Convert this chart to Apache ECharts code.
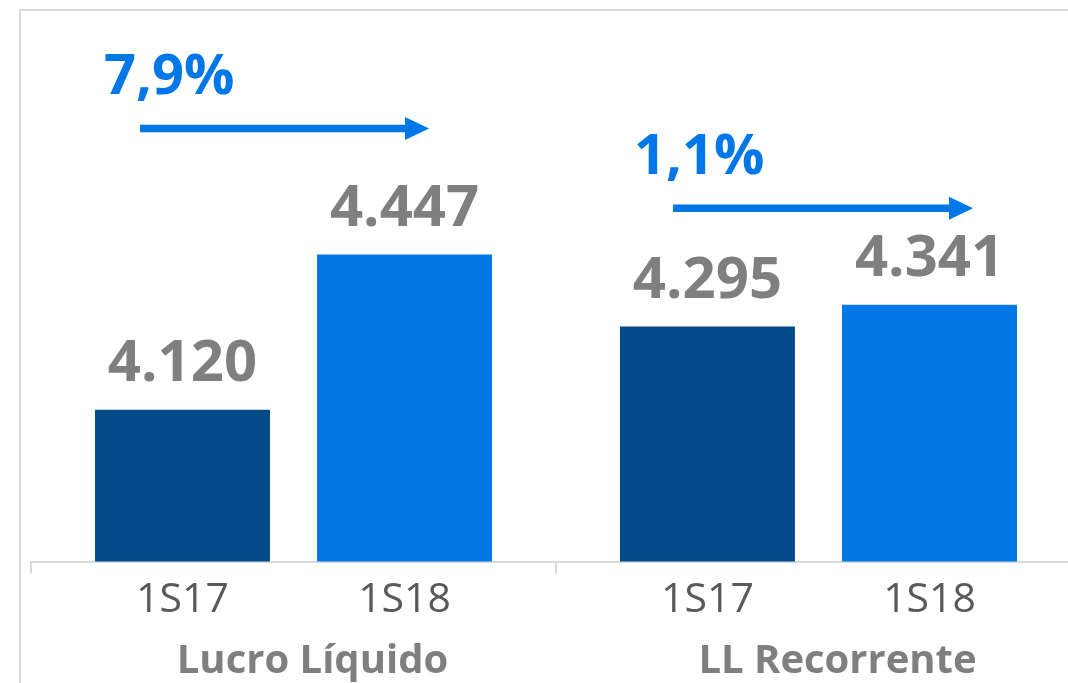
<!DOCTYPE html>
<html>
<head>
<meta charset="utf-8">
<style>
  html, body { margin: 0; padding: 0; background: #ffffff; overflow: hidden; }
  #wrap { width: 1068px; height: 683px; overflow: hidden; }
  #chart { width: 1100px; height: 683px; }
</style>
<script src="https://cdn.jsdelivr.net/npm/echarts@6/dist/echarts.min.js"></script>
</head>
<body>
<div id="wrap"><div id="chart"></div></div>
<script>
// Net income, first halves 2017 vs 2018 (R$ millions)
const groups = ['Lucro Líquido', 'LL Recorrente'];
const periods = ['1S17', '1S18'];
const values1S17 = [4120, 4295];
const values1S18 = [4447, 4341];

const FONT = '"Open Sans", "Noto Sans", sans-serif';
const DARK_BLUE = '#044a89';
const BRIGHT_BLUE = '#0077e6';
const GRAY_TEXT = '#7f7f7f';
const AXIS_GRAY = '#d9d9d9';

// "4120" -> "4.120"
const fmtThousands = v => String(v).replace(/\B(?=(\d{3})+(?!\d))/g, '.');
// growth between the two halves, "7,9%"
const growth = (a, b) => ((b / a - 1) * 100).toFixed(1).replace('.', ',') + '%';

const BAR_W = 175;
const BAR_GAP = '26.9%';

const seriesList = [values1S17, values1S18];
const colors = [DARK_BLUE, BRIGHT_BLUE];

const series = [];
// visible bars with the value on top
seriesList.forEach((vals, i) => {
  series.push({
    name: periods[i],
    type: 'bar',
    xAxisIndex: 0,
    barWidth: BAR_W,
    barGap: BAR_GAP,
    data: vals,
    itemStyle: { color: colors[i] },
    label: {
      show: true,
      position: 'top',
      distance: 16,
      formatter: p => fmtThousands(p.value),
      fontFamily: FONT,
      fontWeight: 'bold',
      fontSize: 58,
      lineHeight: 58,
      color: GRAY_TEXT
    },
    z: 3
  });
});
// transparent twins carrying the period name under each bar
seriesList.forEach((vals, i) => {
  series.push({
    name: periods[i] + ' ',
    type: 'bar',
    xAxisIndex: 1,
    barWidth: BAR_W,
    barGap: BAR_GAP,
    data: vals,
    silent: true,
    itemStyle: { color: 'rgba(0,0,0,0)' },
    label: {
      show: true,
      position: 'bottom',
      distance: 18,
      formatter: () => periods[i],
      fontFamily: FONT,
      fontSize: 41,
      lineHeight: 41,
      color: '#595959'
    },
    z: 1
  });
});

const growthLabels = groups.map((g, k) => growth(values1S17[k], values1S18[k]));

function arrow(x0, x1, y, color) {
  const headLen = 24, headHalf = 11.5, thick = 7.5;
  return {
    type: 'group',
    children: [
      { type: 'rect', shape: { x: x0, y: y - thick / 2, width: x1 - headLen - x0 + 1, height: thick }, style: { fill: color } },
      { type: 'polygon', shape: { points: [[x1 - headLen, y - headHalf], [x1, y], [x1 - headLen, y + headHalf]] }, style: { fill: color } }
    ]
  };
}

const chart = echarts.init(document.getElementById('chart'), null, { renderer: 'canvas' });
chart.setOption({
  animation: false,
  backgroundColor: '#ffffff',
  grid: { left: 31, width: 1050, top: 39.5, height: 522, containLabel: false },
  xAxis: [
    {
      type: 'category',
      data: groups,
      position: 'bottom',
      axisLine: { show: true, lineStyle: { color: AXIS_GRAY, width: 2 } },
      axisTick: { show: true, length: 12, interval: 0, lineStyle: { color: AXIS_GRAY, width: 2 } },
      axisLabel: {
        margin: 80,
        interval: 0,
        fontFamily: FONT,
        fontWeight: 'bold',
        fontSize: 40,
        lineHeight: 40,
        color: GRAY_TEXT,
        padding: [0, 0, 0, 38]
      }
    },
    {
      type: 'category',
      data: groups,
      position: 'bottom',
      show: false
    }
  ],
  yAxis: {
    type: 'value',
    min: 3800,
    max: 4900,
    show: false,
    splitLine: { show: false }
  },
  series: series,
  graphic: [
    // frame
    { type: 'polyline', shape: { points: [[20, 683], [20, 10], [1100, 10]] }, style: { stroke: AXIS_GRAY, lineWidth: 2, fill: null }, z: 0 },
    // growth annotations
    arrow(140, 429, 128.5, BRIGHT_BLUE),
    arrow(673, 973, 208.3, BRIGHT_BLUE),
    { type: 'text', style: { text: growthLabels[0], x: 104, y: 78, font: 'bold 56px ' + FONT, fill: BRIGHT_BLUE, align: 'left', verticalAlign: 'middle' } },
    { type: 'text', style: { text: growthLabels[1], x: 634, y: 158, font: 'bold 56px ' + FONT, fill: BRIGHT_BLUE, align: 'left', verticalAlign: 'middle' } }
  ]
});
</script>
</body>
</html>
